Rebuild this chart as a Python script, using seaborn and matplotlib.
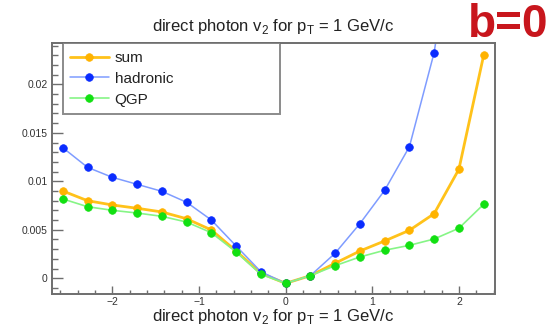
import numpy as np
import pandas as pd
import matplotlib
matplotlib.use("Agg")
import matplotlib.pyplot as plt
from matplotlib.ticker import MultipleLocator
import seaborn as sns

# rapidity bins (width 2/7) and v2 of the three photon sources
y_bins = [-2.571, -2.286, -2.0, -1.714, -1.429, -1.143, -0.857, -0.571, -0.286,
          0.0, 0.286, 0.571, 0.857, 1.143, 1.429, 1.714, 2.0, 2.286]
v2_sum = [0.0090, 0.0080, 0.00756, 0.00722, 0.00684, 0.00614, 0.00498, 0.00281, 0.00052,
          -0.00052, 0.00027, 0.00155, 0.00281, 0.00385, 0.00495, 0.00666, 0.01124, 0.0230]
v2_hadronic = [0.01346, 0.01144, 0.01041, 0.00969, 0.00897, 0.00784, 0.00601, 0.00333, 0.00068,
               -0.00052, 0.00027, 0.00258, 0.00563, 0.00907, 0.01357, 0.02326, 0.040, 0.075]
v2_qgp = [0.00818, 0.00738, 0.00701, 0.00673, 0.00639, 0.0058, 0.0047, 0.00271, 0.00041,
          -0.00052, 0.00027, 0.0013, 0.0022, 0.00289, 0.0034, 0.00405, 0.00516, 0.00763]

series_names = ["sum", "hadronic", "QGP"]
x_ticks = [-2, -1, 0, 1, 2]
x_tick_labels = ["\u22122", "\u22121", "0", "1", "2"]
y_ticks = [0.0, 0.005, 0.01, 0.015, 0.02]
y_tick_labels = ["0", "0.005", "0.01", "0.015", "0.02"]

df = pd.concat([
    pd.DataFrame({"y": y_bins, "v2": v, "source": name})
    for name, v in zip(series_names, [v2_sum, v2_hadronic, v2_qgp])
], ignore_index=True)

sns.set_style("white")
plt.rcParams["font.family"] = ["Liberation Sans", "DejaVu Sans"]
plt.rcParams["mathtext.fontset"] = "custom"
plt.rcParams["mathtext.rm"] = "Liberation Sans"

styles = {
    "sum": dict(line="#ffc21a", marker="#ffb300", lw=2.0),
    "hadronic": dict(line="#7f9cff", marker="#0a2cff", lw=1.1),
    "QGP": dict(line="#86f586", marker="#12e012", lw=1.2),
}

fig = plt.figure(figsize=(5.51, 3.30), dpi=100)
ax = fig.add_axes([0.0938, 0.1082, 0.8046, 0.7606])

for name in series_names:
    st = styles[name]
    sns.lineplot(data=df[df["source"] == name], x="y", y="v2", ax=ax,
                 color=st["line"], lw=st["lw"], marker="o", markersize=5.5,
                 markerfacecolor=st["marker"], markeredgecolor=st["marker"],
                 markeredgewidth=0.5, label=name)

ax.set_xlim(-2.70, 2.417)
ax.set_ylim(-0.00165, 0.02423)

frame_col = "#6e6e6e"
for s in ax.spines.values():
    s.set_color(frame_col)
    s.set_linewidth(1.4)

ax.set_xticks(x_ticks, x_tick_labels)
ax.set_yticks(y_ticks, y_tick_labels)
ax.xaxis.set_minor_locator(MultipleLocator(0.2))
ax.yaxis.set_minor_locator(MultipleLocator(0.001))
ax.tick_params(axis="x", which="major", direction="in", length=5.5, width=1.0,
               color=frame_col, labelsize=7.5, labelcolor="#333333", pad=2)
ax.tick_params(axis="x", which="minor", direction="in", length=3, width=1.0, color=frame_col)
ax.tick_params(axis="y", which="major", direction="in", length=8, width=1.0,
               color=frame_col, labelsize=7.5, labelcolor="#333333", pad=3)
ax.tick_params(axis="y", which="minor", direction="in", length=4.5, width=1.0, color=frame_col)
ax.tick_params(bottom=True, left=True, top=False, right=False)
ax.tick_params(which="minor", bottom=True, left=True)

label = r"direct photon v$_\mathregular{2}$ for p$_\mathregular{T}$ = 1 GeV/c"
ax.set_title(label, fontsize=12, color="#222222", pad=9)
ax.set_xlabel(label, fontsize=12, color="#222222", labelpad=0)
ax.set_ylabel("")

leg = ax.legend(loc="upper left", bbox_to_anchor=(0.0248, 0.717, 0.4902, 0.283),
                mode="expand", frameon=True, fancybox=False, fontsize=11,
                handlelength=2.5, handletextpad=0.4, borderpad=0.5,
                labelspacing=0.45, borderaxespad=0)
leg.get_frame().set_edgecolor(frame_col)
leg.get_frame().set_linewidth(1.4)
for t in leg.get_texts():
    t.set_color("#222222")

fig.text(0.995, 0.99, "b=0", ha="right", va="top", fontsize=33,
         fontweight="bold", color="#c8161d", family="Liberation Sans")

fig.savefig("out.png", dpi=100, facecolor="white")
